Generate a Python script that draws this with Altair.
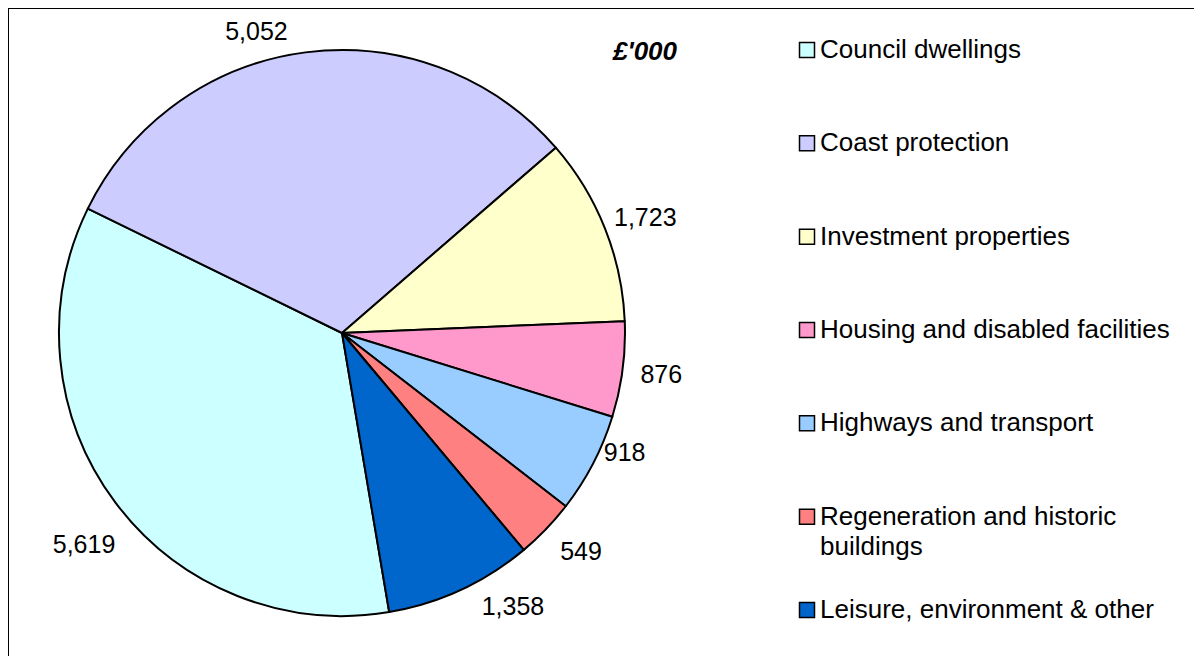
import math
import altair as alt
import pandas as pd

categories = [
    "Council dwellings",
    "Coast protection",
    "Investment properties",
    "Housing and disabled facilities",
    "Highways and transport",
    "Regeneration and historic buildings",
    "Leisure, environment & other",
]
legend_labels = [
    "Council dwellings",
    "Coast protection",
    "Investment properties",
    "Housing and disabled facilities",
    "Highways and transport",
    "Regeneration and historic\nbuildings",
    "Leisure, environment & other",
]
values = [5619, 5052, 1723, 876, 918, 549, 1358]
value_labels = ["5,619", "5,052", "1,723", "876", "918", "549", "1,358"]
colors = ["#CCFFFF", "#CCCCFF", "#FFFFCC", "#FF99CC", "#99CCFF", "#FF8080", "#0066CC"]
unit_label = "£'000"

START = math.radians(170.4)

df = pd.DataFrame({
    "idx": list(range(len(categories))),
    "cat": categories,
    "legend": legend_labels,
    "value": values,
    "vlabel": value_labels,
})

W, H = 1186, 648
CX, CY, R = 334, 325, 283
FONT = "Liberation Sans"

color = alt.Color("cat:N", scale=alt.Scale(domain=categories, range=colors), legend=None)
theta = alt.Theta("value:Q", stack=True, scale=alt.Scale(range=[START, START + 2 * math.pi]))

base = alt.Chart(df)

pie = base.mark_arc(outerRadius=R, stroke="black", strokeWidth=2, strokeJoin="round").encode(
    theta=theta,
    color=color,
    order=alt.Order("idx:Q"),
    x=alt.value(CX),
    y=alt.value(CY),
)

# label nudges (like manually placed data labels), in pixels
nudge = {
    "Council dwellings": (0, 19),
    "Coast protection": (-44, 18),
    "Investment properties": (4, 4),
    "Housing and disabled facilities": (0, 0),
    "Highways and transport": (-3, -29),
    "Regeneration and historic buildings": (7, -4),
    "Leisure, environment & other": (36, -18),
}

label_layers = []
for c in categories:
    dx, dy = nudge[c]
    label_layers.append(
        base.mark_text(radius=322, font=FONT, fontSize=25, color="black",
                       align="center", baseline="middle", dx=dx, dy=dy).encode(
            theta=theta,
            text=alt.condition(alt.datum.cat == c, "vlabel:N", alt.value("")),
            order=alt.Order("idx:Q"),
            x=alt.value(CX),
            y=alt.value(CY),
        )
    )

ly = alt.Y("idx:Q", scale=alt.Scale(domain=[0, 6], range=[42, 602]), axis=None)

leg_sq = base.mark_square(size=225, stroke="black", strokeWidth=1.5, opacity=1).encode(
    x=alt.value(799),
    y=ly,
    color=color,
)

leg_txt = base.mark_text(font=FONT, fontSize=26, align="left", baseline="top", dy=-13,
                         lineBreak="\n", lineHeight=30, color="black").encode(
    x=alt.value(812),
    y=ly,
    text="legend:N",
)

unit = alt.Chart(pd.DataFrame({"t": [unit_label]})).mark_text(
    font=FONT, fontSize=26, fontWeight="bold", fontStyle="italic",
    align="center", baseline="middle", color="black").encode(
    x=alt.value(637), y=alt.value(44), text="t:N")

frame_top = alt.Chart(pd.DataFrame({"a": [0]})).mark_rule(color="black", strokeWidth=2).encode(
    x=alt.value(0), x2=alt.value(W), y=alt.value(0))
frame_left = alt.Chart(pd.DataFrame({"a": [0]})).mark_rule(color="black", strokeWidth=2).encode(
    x=alt.value(0), y=alt.value(0), y2=alt.value(H))

chart = alt.layer(pie, *label_layers, leg_sq, leg_txt, unit, frame_top, frame_left).properties(
    width=W, height=H, padding=0, autosize="none"
).configure_view(stroke=None)

chart.save("out.html", embed_options={"renderer": "svg", "actions": False})
